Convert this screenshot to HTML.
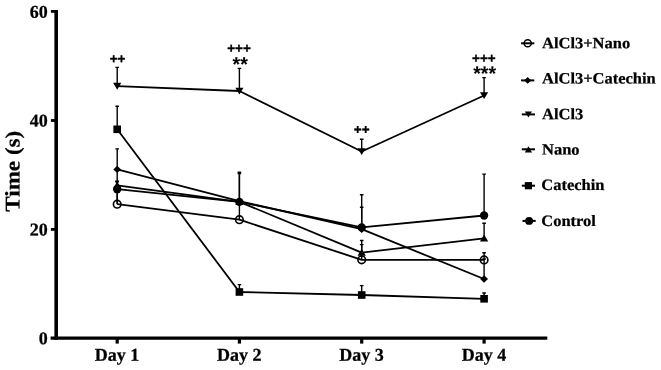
<!DOCTYPE html>
<html><head><meta charset="utf-8"><title>Time (s)</title>
<style>
html,body{margin:0;padding:0;background:#fff;}
svg{display:block;}
.s{font-family:"Liberation Serif",serif;font-weight:bold;fill:#000;stroke:#000;stroke-width:0.25px;}
.a{font-family:"Liberation Sans",sans-serif;font-weight:bold;fill:#000;}
</style></head><body>
<svg width="661" height="370" viewBox="0 0 661 370">
<rect width="661" height="370" fill="#fff"/>
<g stroke="#000" fill="none">
<line x1="56.2" y1="10" x2="56.2" y2="339.8" stroke-width="3.6"/>
<line x1="50.6" y1="338.1" x2="547.3" y2="338.1" stroke-width="3.4"/>
<line x1="50.9" y1="11.4" x2="55" y2="11.4" stroke-width="2.8"/>
<line x1="50.9" y1="120.5" x2="55" y2="120.5" stroke-width="2.8"/>
<line x1="50.9" y1="229.4" x2="55" y2="229.4" stroke-width="2.8"/>
<line x1="117.2" y1="339" x2="117.2" y2="343.6" stroke-width="3.2"/>
<line x1="239.4" y1="339" x2="239.4" y2="343.6" stroke-width="3.2"/>
<line x1="361.7" y1="339" x2="361.7" y2="343.6" stroke-width="3.2"/>
<line x1="484.1" y1="339" x2="484.1" y2="343.6" stroke-width="3.2"/>
</g>
<text class="s" font-size="18" text-anchor="end" transform="translate(47.8 17.8) rotate(0.05)">60</text>
<text class="s" font-size="18" text-anchor="end" transform="translate(47.8 126.6) rotate(0.05)">40</text>
<text class="s" font-size="18" text-anchor="end" transform="translate(47.8 235.5) rotate(0.05)">20</text>
<text class="s" font-size="18" text-anchor="end" transform="translate(47.8 344.2) rotate(0.05)">0</text>
<text class="s" font-size="18" text-anchor="middle" transform="translate(117.0 360.8) rotate(0.05)">Day 1</text>
<text class="s" font-size="18" text-anchor="middle" transform="translate(239.2 360.8) rotate(0.05)">Day 2</text>
<text class="s" font-size="18" text-anchor="middle" transform="translate(361.5 360.8) rotate(0.05)">Day 3</text>
<text class="s" font-size="18" text-anchor="middle" transform="translate(483.9 360.8) rotate(0.05)">Day 4</text>
<text class="s" font-size="22.5" text-anchor="middle" transform="translate(19.6 171.25) rotate(-89.95) scale(1.027 0.93)">Time (s)</text>
<g stroke="#000" stroke-width="1.4" fill="none">
<path d="M117.2 86.1V67.4M115.4 67.4H119.0"/>
<path d="M239.4 91V68.4M237.6 68.4H241.2"/>
<path d="M361.7 151.5V139.3M359.9 139.3H363.5"/>
<path d="M484.1 95.5V77.6M482.3 77.6H485.9"/>
<path d="M117.2 129.3V106.3M115.4 106.3H119.0"/>
<path d="M239.4 292V284.6M237.6 284.6H241.2"/>
<path d="M361.7 295V285.6M359.9 285.6H363.5"/>
<path d="M484.1 298.8V293M482.3 293H485.9"/>
<path d="M117.2 169.4V148.9M115.4 148.9H119.0"/>
<path d="M239.4 201.2V173.6M237.6 173.6H241.2"/>
<path d="M361.7 229.2V207.3M359.9 207.3H363.5"/>
<path d="M484.1 279V259M482.3 259H485.9"/>
<path d="M117.2 185.4V181.5M115.4 181.5H119.0"/>
<path d="M239.4 201.8V201.8M237.6 201.8H241.2"/>
<path d="M361.7 252.7V244.6M359.9 244.6H363.5"/>
<path d="M484.1 238.3V223.2M482.3 223.2H485.9"/>
<path d="M117.2 189.2V181.5M115.4 181.5H119.0"/>
<path d="M239.4 201.9V172.3M237.6 172.3H241.2"/>
<path d="M361.7 227.4V194.7M359.9 194.7H363.5"/>
<path d="M484.1 215.5V174.1M482.3 174.1H485.9"/>
<path d="M117.2 204.2V181.5M115.4 181.5H119.0"/>
<path d="M239.4 219.7V202M237.6 202H241.2"/>
<path d="M361.7 259.8V240.5M359.9 240.5H363.5"/>
<path d="M484.1 259.9V252.8M482.3 252.8H485.9"/>
<path d="M117.2 204V169"/>
</g>
<g stroke="#000" stroke-width="1.8" fill="none" stroke-linejoin="round">
<polyline points="117.2,86.1 239.4,91 361.7,151.5 484.1,95.5"/>
<polyline points="117.2,129.3 239.4,292 361.7,295 484.1,298.8"/>
<polyline points="117.2,169.4 239.4,201.2 361.7,229.2 484.1,279"/>
<polyline points="117.2,185.4 239.4,201.8 361.7,252.7 484.1,238.3"/>
<polyline points="117.2,189.2 239.4,201.9 361.7,227.4 484.1,215.5"/>
<polyline points="117.2,204.2 239.4,219.7 361.7,259.8 484.1,259.9"/>
</g>
<polygon points="113.1,82.75 121.3,82.75 117.2,89.7" fill="#000"/>
<polygon points="235.3,87.65 243.5,87.65 239.4,94.6" fill="#000"/>
<polygon points="357.6,148.15 365.8,148.15 361.7,155.1" fill="#000"/>
<polygon points="480.0,92.15 488.2,92.15 484.1,99.1" fill="#000"/>
<rect x="113.4" y="125.5" width="7.6" height="7.6" fill="#000"/>
<rect x="235.6" y="288.2" width="7.6" height="7.6" fill="#000"/>
<rect x="357.9" y="291.2" width="7.6" height="7.6" fill="#000"/>
<rect x="480.3" y="295.0" width="7.6" height="7.6" fill="#000"/>
<polygon points="113.3,169.4 117.2,165.7 121.1,169.4 117.2,173.1" fill="#000"/>
<polygon points="235.5,201.2 239.4,197.5 243.3,201.2 239.4,204.9" fill="#000"/>
<polygon points="357.8,229.2 361.7,225.5 365.6,229.2 361.7,232.9" fill="#000"/>
<polygon points="480.2,279 484.1,275.3 488.0,279 484.1,282.7" fill="#000"/>
<polygon points="113.05,188.5 121.35,188.5 117.2,181.5" fill="#000"/>
<polygon points="235.25,204.9 243.55,204.9 239.4,197.9" fill="#000"/>
<polygon points="357.55,255.8 365.85,255.8 361.7,248.8" fill="#000"/>
<polygon points="479.95,241.4 488.25,241.4 484.1,234.4" fill="#000"/>
<circle cx="117.2" cy="189.2" r="4.15" fill="#000"/>
<circle cx="239.4" cy="201.9" r="4.15" fill="#000"/>
<circle cx="361.7" cy="227.4" r="4.15" fill="#000"/>
<circle cx="484.1" cy="215.5" r="4.15" fill="#000"/>
<circle cx="117.2" cy="204.2" r="3.8" fill="none" stroke="#000" stroke-width="1.6"/>
<circle cx="239.4" cy="219.7" r="3.8" fill="none" stroke="#000" stroke-width="1.6"/>
<circle cx="361.7" cy="259.8" r="3.8" fill="none" stroke="#000" stroke-width="1.6"/>
<circle cx="484.1" cy="259.9" r="3.8" fill="none" stroke="#000" stroke-width="1.6"/>
<text class="a" font-size="13.5" text-anchor="middle" stroke="#000" stroke-width="0.3" transform="translate(117.6 63.25) rotate(0.05)">++</text>
<text class="a" font-size="13.5" text-anchor="middle" stroke="#000" stroke-width="0.3" transform="translate(239.0 52.8) rotate(0.05)">+++</text>
<text class="a" font-size="19.5" text-anchor="middle" stroke="#000" stroke-width="0.1" transform="translate(240.2 70.75) rotate(0.05)">**</text>
<text class="a" font-size="13.5" text-anchor="middle" stroke="#000" stroke-width="0.3" transform="translate(361.7 134.05) rotate(0.05)">++</text>
<text class="a" font-size="13.5" text-anchor="middle" stroke="#000" stroke-width="0.3" transform="translate(483.85 62.7) rotate(0.05)">+++</text>
<text class="a" font-size="19.5" text-anchor="middle" stroke="#000" stroke-width="0.1" transform="translate(484.6 79.9) rotate(0.05)">***</text>
<line x1="521.1" y1="43.3" x2="534.3" y2="43.3" stroke="#000" stroke-width="2"/>
<g transform="translate(527.7 43.3) scale(0.94) translate(-527.7 -43.3)"><circle cx="527.7" cy="43.3" r="3.8" fill="none" stroke="#000" stroke-width="1.6"/></g>
<text class="s" font-size="16.5" transform="translate(542 48.2) rotate(0.05) scale(1 0.96)">AlCl3+Nano</text>
<line x1="521.1" y1="80.4" x2="534.3" y2="80.4" stroke="#000" stroke-width="2"/>
<g transform="translate(527.7 80.4) scale(0.9) translate(-527.7 -80.4)"><polygon points="523.8,80.4 527.7,76.7 531.6,80.4 527.7,84.1" fill="#000"/></g>
<text class="s" font-size="16.5" transform="translate(542 83.4) rotate(0.05) scale(1 0.96)">AlCl3+Catechin</text>
<line x1="521.8" y1="114.4" x2="535.0" y2="114.4" stroke="#000" stroke-width="2"/>
<g transform="translate(528.4 114.4) scale(0.87) translate(-528.4 -114.4)"><polygon points="524.3,111.05 532.5,111.05 528.4,118.0" fill="#000"/></g>
<text class="s" font-size="16.5" transform="translate(542 119.2) rotate(0.05) scale(1 0.96)">AlCl3</text>
<line x1="521.8" y1="149.3" x2="535.0" y2="149.3" stroke="#000" stroke-width="2"/>
<g transform="translate(528.4 149.7) scale(0.87) translate(-528.4 -149.7)"><polygon points="524.25,152.8 532.55,152.8 528.4,145.8" fill="#000"/></g>
<text class="s" font-size="16.5" transform="translate(542 154.6) rotate(0.05) scale(1 0.96)">Nano</text>
<line x1="521.8" y1="185.7" x2="535.0" y2="185.7" stroke="#000" stroke-width="2"/>
<g transform="translate(528.4 185.7) scale(0.95) translate(-528.4 -185.7)"><rect x="524.6" y="181.9" width="7.6" height="7.6" fill="#000"/></g>
<text class="s" font-size="16.5" transform="translate(541.3 190.0) rotate(0.05) scale(1 0.96)">Catechin</text>
<line x1="522.5" y1="220.9" x2="535.7" y2="220.9" stroke="#000" stroke-width="2"/>
<g transform="translate(529.1 220.9) scale(0.95) translate(-529.1 -220.9)"><circle cx="529.1" cy="220.9" r="4.15" fill="#000"/></g>
<text class="s" font-size="16.5" transform="translate(541.3 226.0) rotate(0.05) scale(1 0.96)">Control</text>
</svg>
</body></html>
